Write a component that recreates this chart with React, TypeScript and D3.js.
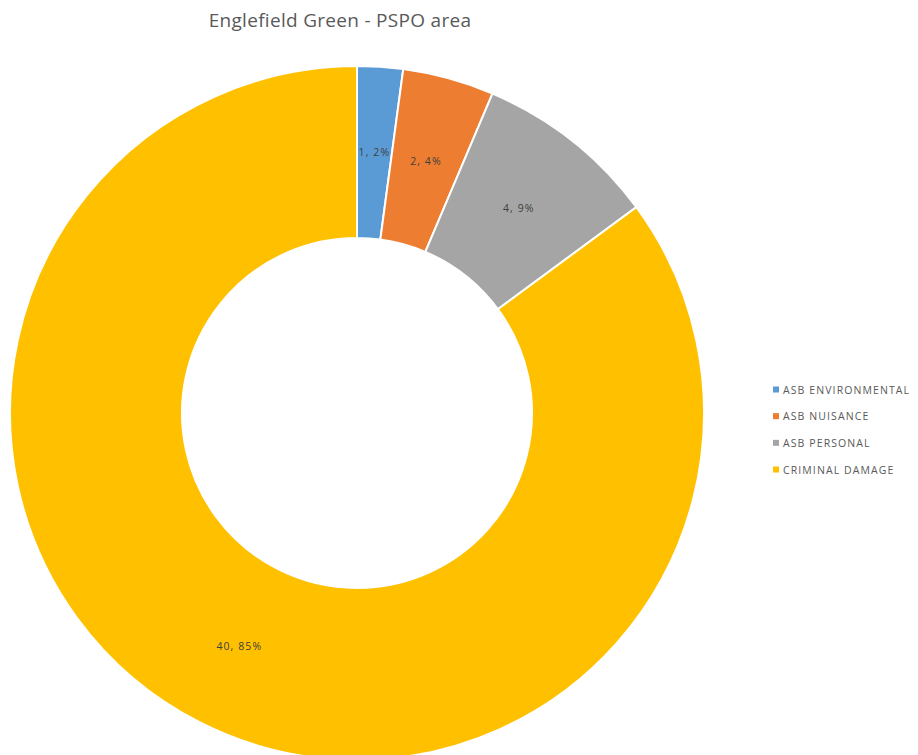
import React from "react";
import * as d3 from "d3";

const categories = ["ASB ENVIRONMENTAL", "ASB NUISANCE", "ASB PERSONAL", "CRIMINAL DAMAGE"];
const values = [1, 2, 4, 40];
const percentLabels = ["2%", "4%", "9%", "85%"];
const colors = ["#5B9BD5", "#ED7D31", "#A5A5A5", "#FFC000"];
const title = "Englefield Green - PSPO area";

export default function App() {
  const W = 918, H = 755;
  const cx = 357, cy = 413, rOuter = 347, rInner = 175;
  const pie = d3.pie<number>().sort(null).value((d) => d);
  const arcs = pie(values);
  const arc = d3.arc<d3.PieArcDatum<number>>().innerRadius(rInner).outerRadius(rOuter);
  const legendY = d3.scalePoint<string>().domain(categories).range([390, 470]);
  return (
    <svg width={W} height={H} style={{ position: "absolute", left: 0, top: 0, fontFamily: "'Open Sans', 'Noto Sans', sans-serif" }}>
      <rect width={W} height={H} fill="#fff" />
      <text x={340} y={27} textAnchor="middle" fontSize={19} fill="#595959" letterSpacing={0.3}>{title}</text>
      <g transform={`translate(${cx},${cy})`}>
        {arcs.map((a, i) => (
          <path key={i} d={arc(a) || ""} fill={colors[i]} stroke="#fff" strokeWidth={2} />
        ))}
        {arcs.map((a, i) => {
          const [x, y] = arc.centroid(a);
          return (
            <text key={"l" + i} x={x} y={y} dy="0.35em" textAnchor="middle" fontSize={10.5} letterSpacing={1.1} fill="#404040">
              {`${values[i]}, ${percentLabels[i]}`}
            </text>
          );
        })}
      </g>
      <g>
        {categories.map((c, i) => (
          <g key={c} transform={`translate(773,${legendY(c)})`}>
            <rect x={0} y={-3.5} width={6} height={6} fill={colors[i]} />
            <text x={10} y={0} dy="0.35em" fontSize={10.5} letterSpacing={1.1} fill="#595959">{c}</text>
          </g>
        ))}
      </g>
    </svg>
  );
}
